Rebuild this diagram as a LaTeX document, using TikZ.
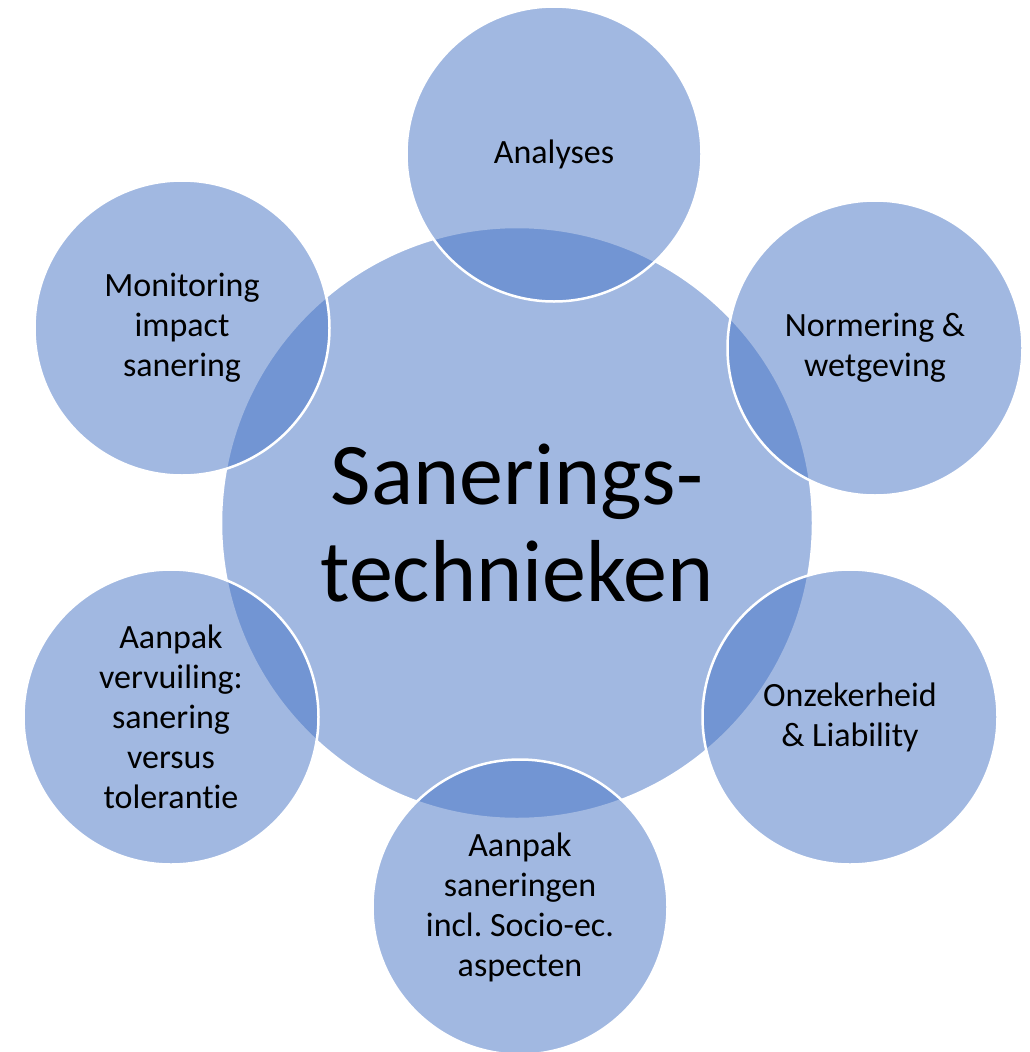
\documentclass[tikz,border=0pt]{standalone}
\usepackage{fontspec}
\setmainfont[Ligatures=NoCommon]{Carlito}
\usepackage{tikz}
\frenchspacing

\definecolor{sanblue}{HTML}{4472C4}
\tikzset{
  bubble/.style={circle, draw=white, line width=2.5pt, fill=sanblue,
    fill opacity=0.5, text opacity=1, inner sep=0pt, align=center,
    font=\fontsize{34}{40}\selectfont},
  spoke/.style={bubble, minimum size=295pt},
  hub/.style={bubble, minimum size=592pt, font=\fontsize{88}{97}\selectfont}
}

\begin{document}
\begin{tikzpicture}[x=1pt, y=-1pt]
  \useasboundingbox (0,0) rectangle (1030,1052);

  % Central circle
  \node[hub] (hub) at (517,523) {Sanerings-\\technieken};

  % Surrounding circles
  \node[spoke] (analyses) at (554,154) {Analyses};
  \node[spoke] (norm) at (875,348) {Normering \&\\wetgeving};
  \node[spoke] (onzeker) at (850,717) {Onzekerheid\\\& Liability};
  \node[spoke] (socio) at (520,907) {Aanpak\\saneringen\\incl. Socio-ec.\\aspecten};
  \node[spoke] (vervuiling) at (171,717) {Aanpak\\vervuiling:\\sanering\\versus\\tolerantie};
  \node[spoke] (monitoring) at (182,328) {Monitoring\\impact\\sanering};
\end{tikzpicture}
\end{document}
